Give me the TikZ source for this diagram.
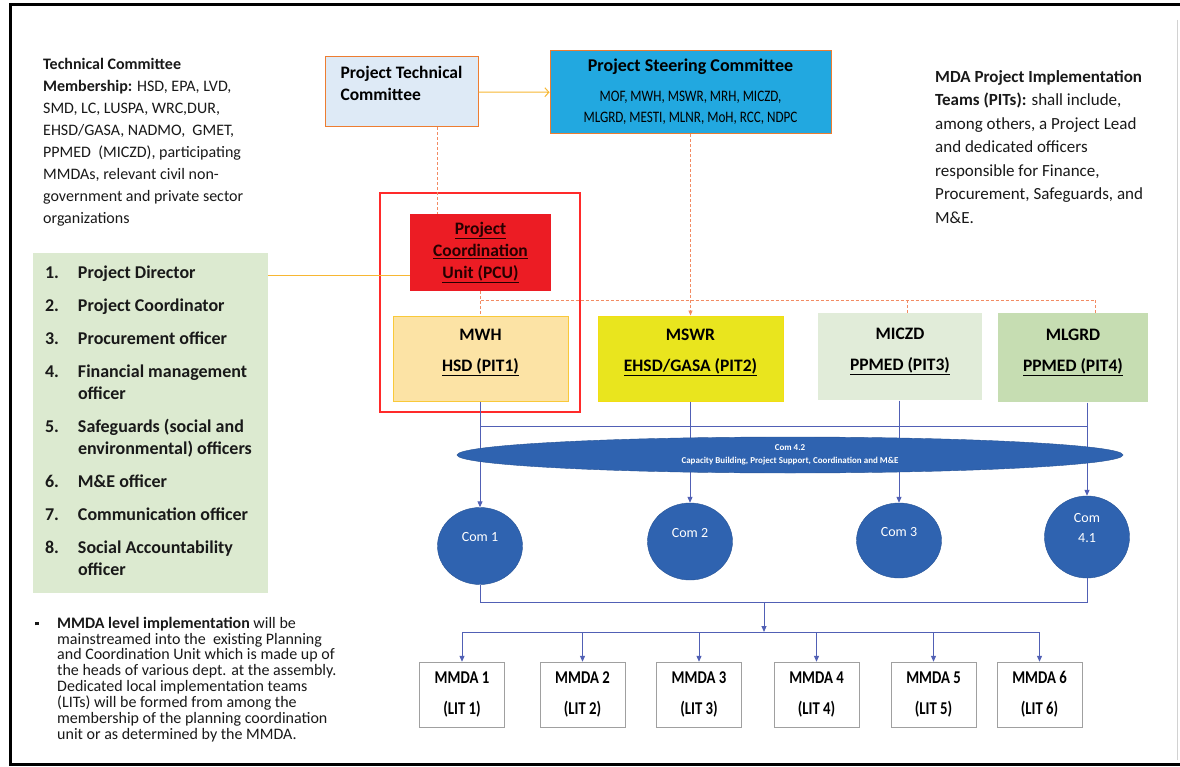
\documentclass[tikz,border=0pt]{standalone}
\usepackage{fontspec}
\setmainfont{Carlito}
\newfontfamily\narrowfont[FakeStretch=0.82]{Carlito}
\usetikzlibrary{arrows.meta,shapes.geometric}
\definecolor{ptcblue}{HTML}{DEEAF6}
\definecolor{pscblue}{HTML}{22A8E0}
\definecolor{boxorange}{HTML}{ED7D31}
\definecolor{arrowgold}{HTML}{F7B733}
\definecolor{pcured}{HTML}{EC1C24}
\definecolor{framered}{HTML}{FF2A2A}
\definecolor{mwhfill}{HTML}{FCE3A5}
\definecolor{mwhline}{HTML}{F9C93A}
\definecolor{mswrfill}{HTML}{E9E51E}
\definecolor{mswrline}{HTML}{F3DD14}
\definecolor{miczdfill}{HTML}{E1ECD9}
\definecolor{mlgrdfill}{HTML}{C6DDB2}
\definecolor{comblue}{HTML}{2F63B0}
\definecolor{linkblue}{HTML}{5160B5}
\definecolor{dashorange}{HTML}{F28B63}
\definecolor{listgreen}{HTML}{DCEAD0}
\definecolor{mmdagray}{HTML}{A0A0A0}

\begin{document}
\begin{tikzpicture}[x=1pt,y=-1pt]
    \tikzset{texte/.style={anchor=north west, inner sep=0pt, align=left, text=black!90}}
    \tikzset{comite/.style={draw=boxorange, line width=1pt, inner sep=0pt}}
    \tikzset{pit/.style={inner sep=0pt, line width=1pt, font=\bfseries\fontsize{17.5}{31}\selectfont}}
    \tikzset{com/.style={ellipse, fill=comblue, draw=comblue!85!black, text=white, inner sep=0pt, minimum width=85, minimum height=77, font=\fontsize{14}{20}\selectfont}}
    \tikzset{mmda/.style={draw=mmdagray, inner sep=0pt, minimum width=85, minimum height=65, align=center, font=\narrowfont\bfseries\fontsize{18}{31}\selectfont}}
    \tikzset{lien/.style={linkblue, line width=1pt}}
    \tikzset{fleche/.style={lien, -{Triangle[length=6pt,width=5pt]}}}
    \tikzset{tirets/.style={dashorange, line width=0.8pt, dash pattern=on 3pt off 2pt}}
    \useasboundingbox (0,0) rectangle (1180,767);
    \fill[white] (0,0) rectangle (1180,767);
    \draw[line width=3pt] (1180,5) -- (10,5) -- (10,764) -- (1180,764);
    \draw[gray!35] (1177,20) -- (1177,760);
    % left texts
    \node[texte, font=\fontsize{16}{22}\selectfont] (techtxt) at (43,58) {\textbf{Technical Committee}\\
      \textbf{Membership:} HSD, EPA, LVD,\\
      SMD, LC, LUSPA, WRC,DUR,\\
      EHSD/GASA, NADMO,\ \ GMET,\\
      PPMED\ \ (MICZD), participating\\
      MMDAs, relevant civil non-\\
      government and private sector\\
      organizations};
    \node[fill=listgreen, inner sep=0pt, minimum width=235, minimum height=340, text=black!90,
      font=\bfseries\fontsize{18}{22}\selectfont] (liste) at (150.5,423) {\begin{tabular}{@{}p{33pt}@{}p{178pt}@{}}
      1. & Project Director\\[11pt]
      2. & Project Coordinator\\[11pt]
      3. & Procurement officer\\[11pt]
      4. & Financial management\\
         & officer\\[11pt]
      5. & Safeguards (social and\\
         & environmental) officers\\[11pt]
      6. & M\&E officer\\[11pt]
      7. & Communication officer\\[11pt]
      8. & Social Accountability\\
         & officer
      \end{tabular}};
    \node[texte, font=\fontsize{16}{15.5}\selectfont] (mmdatxt) at (35,617) {\begin{tabular}{@{}p{22pt}@{}l@{}}
      \raisebox{3pt}{\rule{3.5pt}{3.5pt}} & \textbf{MMDA level implementation} will be\\
      & mainstreamed into the\ \ existing Planning\\
      & and Coordination Unit which is made up of\\
      & the heads of various dept. at the assembly.\\
      & Dedicated local implementation teams\\
      & (LITs) will be formed from among the\\
      & membership of the planning coordination\\
      & unit or as determined by the MMDA.
      \end{tabular}};
    \node[texte, font=\fontsize{17}{23.5}\selectfont] (pittxt) at (935,70) {\textbf{MDA Project Implementation}\\
      \textbf{Teams (PITs):} shall include,\\
      among others, a Project Lead\\
      and dedicated officers\\
      responsible for Finance,\\
      Procurement, Safeguards, and\\
      M\&E.};
    % committees
    \node[comite, fill=ptcblue, minimum width=153, minimum height=70, font=\bfseries\fontsize{17.5}{22}\selectfont] (ptc) at (401.5,92)
      {\begin{tabular}{@{}l@{}}Project Technical\\Committee\\[13pt]\end{tabular}};
    \node[comite, fill=pscblue, minimum width=281, minimum height=83, font=\narrowfont\fontsize{16}{21}\selectfont] (psc) at (690.5,92.5)
      {\begin{tabular}{@{}c@{}}{\fontspec{Carlito}\bfseries\fontsize{18}{21}\selectfont Project Steering Committee}\\[9pt]
      MOF, MWH, MSWR, MRH, MICZD,\\MLGRD, MESTI, MLNR, MoH, RCC, NDPC\end{tabular}};
    \node[draw=framered, line width=2pt, minimum width=200, minimum height=219] (pcuframe) at (480,302.5) {};
    \node[fill=pcured, inner sep=0pt, minimum width=141, minimum height=77, align=center, text=black!85!red,
      font=\bfseries\fontsize{17.5}{22}\selectfont] (pcu) at (480.5,252.5)
      {\underline{Project}\\\underline{Coordination}\\\underline{Unit (PCU)}};
    % PITs
    \node[pit, draw=mwhline, fill=mwhfill, minimum width=175, minimum height=85] (pit1) at (480.5,358.5)
      {\begin{tabular}{c}MWH\\\underline{HSD (PIT1)}\\[18pt]\end{tabular}};
    \node[pit, draw=mswrline, fill=mswrfill, minimum width=185, minimum height=85] (pit2) at (690.5,358.5)
      {\begin{tabular}{c}MSWR\\\underline{EHSD/GASA (PIT2)}\\[18pt]\end{tabular}};
    \node[pit, fill=miczdfill, minimum width=164, minimum height=87] (pit3) at (900,356.5)
      {\begin{tabular}{c}MICZD\\\underline{PPMED (PIT3)}\\[16pt]\end{tabular}};
    \node[pit, fill=mlgrdfill, minimum width=150, minimum height=89] (pit4) at (1073,357.5)
      {\begin{tabular}{c}MLGRD\\\underline{PPMED (PIT4)}\\[16pt]\end{tabular}};
    % components
    \node[com, text depth=18] (com1) at (480,546) {Com 1};
    \node[com, text depth=18] (com2) at (690,541.5) {Com 2};
    \node[com, text depth=18, minimum height=75] (com3) at (899,540.5) {Com 3};
    \node[com, minimum height=76] (com41) at (1087,537) {\begin{tabular}{@{}c@{}}Com\\4.1\\[18pt]\end{tabular}};
    % MMDAs
    \foreach \i/\x in {1/462,2/582.5,3/699,4/816.5,5/933.5,6/1039.5}
      \node[mmda] (mmda\i) at (\x,694.5) {MMDA \i\\(LIT \i)};
    % connectors
    \coordinate (fil) at (0,276);
    \coordinate (dl) at (480.5,300);
    \coordinate (dr) at (1095,300);
    \coordinate (bt) at (0,426);
    \coordinate (bb) at (0,602);
    \coordinate (bm) at (764,602);
    \coordinate (lm) at (764,632);
    \draw[arrowgold, line width=1pt, -{Straight Barb[length=4pt,width=9pt]}] (ptc) -- (psc);
    \draw[arrowgold, line width=1pt] (liste.east |- fil) -- (pcu.west |- fil);
    \draw[tirets] ([xshift=36pt]ptc.south) -- ([xshift=36pt]ptc.south |- pcu.north);
    \draw[tirets, -{Triangle[length=5pt,width=4pt]}] (psc.south) -- (pit2.north);
    \draw[tirets] (pcu.south) -- (pit1.north);
    \draw[tirets] (dl) -- (dr);
    \draw[tirets] ([xshift=7pt]pit3.north |- dl) -- ([xshift=7pt]pit3.north);
    \draw[tirets] (dr) -- (dr |- pit4.north);
    \draw[lien] (com1 |- bt) -- (com41 |- bt);
    \draw[fleche] (pit1.south -| com1) -- (com1.north);
    \draw[fleche] (pit2.south -| com2) -- (com2.north);
    \draw[fleche] (pit3.south -| com3) -- (com3.north);
    \draw[fleche] (pit4.south -| com41) -- (com41.north);
    \draw[lien] (com1.south) -- (com1 |- bb) -- (com41 |- bb) -- (com41.south);
    \draw[fleche] (bm) -- (lm);
    \draw[lien] (mmda1 |- lm) -- (mmda6 |- lm);
    \foreach \i in {1,...,6}
      \draw[fleche] (mmda\i |- lm) -- (mmda\i.north);
    % Com 4.2 over the lines
    \node[ellipse, fill=comblue, draw=comblue!85!black, text=white, inner sep=0pt, minimum width=666, minimum height=36,
      align=center, font=\bfseries\fontsize{9}{13}\selectfont] (com42) at (790,455)
      {Com 4.2\\Capacity Building, Project Support, Coordination and M\&E};
\end{tikzpicture}
\end{document}
